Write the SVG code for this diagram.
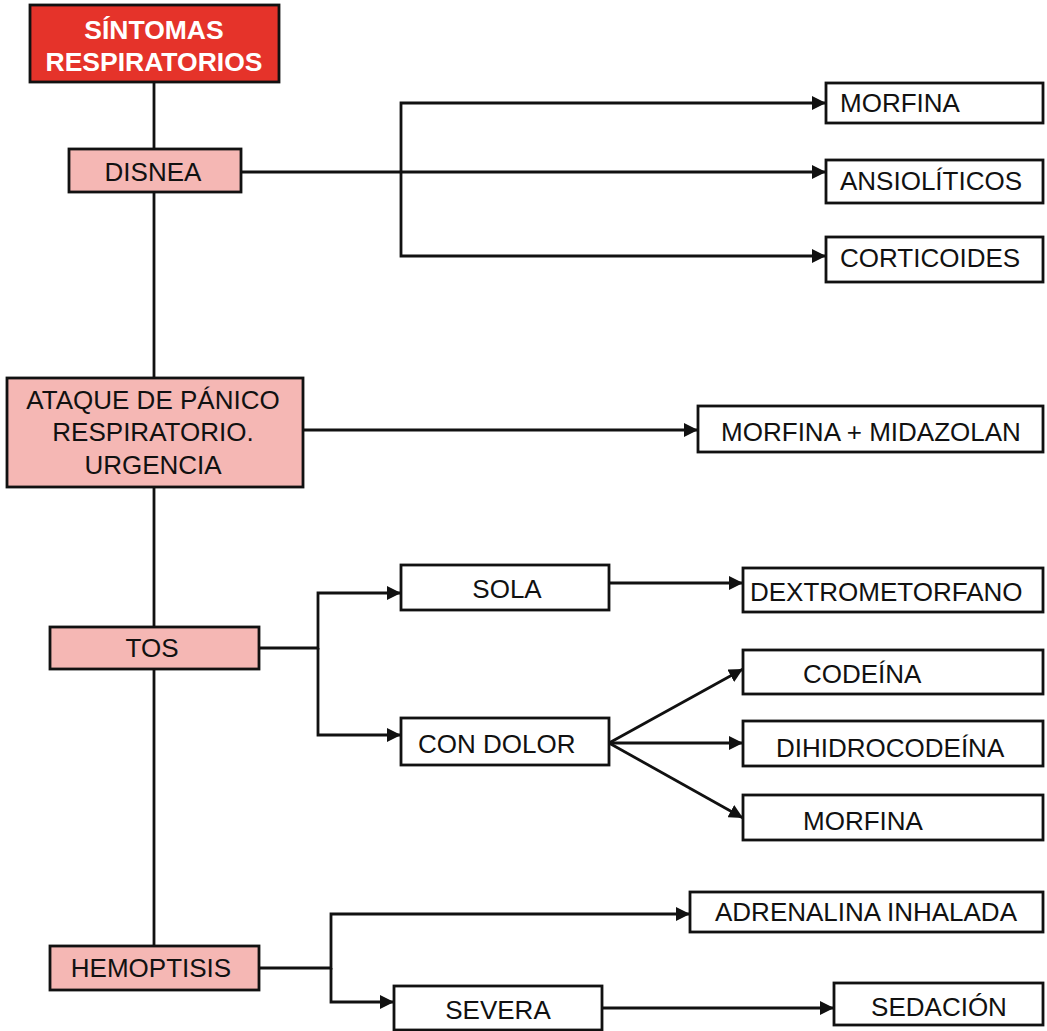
<svg xmlns="http://www.w3.org/2000/svg" width="1047" height="1031" viewBox="0 0 1047 1031">
<defs>
<style>
.box{fill:#fff;stroke:#111;stroke-width:2.8}
.pink{fill:#f5b7b4}
.title{fill:#e5332a}
.t{font-family:"Liberation Sans",Arial,sans-serif;font-size:26px;fill:#111}
.c{text-anchor:middle}
.tt{font-family:"Liberation Sans",Arial,sans-serif;font-size:26.5px;font-weight:bold;fill:#fff;text-anchor:middle}
.ln{fill:none;stroke:#111;stroke-width:2.8}
.ar{marker-end:url(#ah)}
</style>
<marker id="ah" viewBox="0 0 14 14" refX="14" refY="7" markerWidth="14" markerHeight="14" markerUnits="userSpaceOnUse" orient="auto">
<path d="M0,0 L14,7 L0,14 Z" fill="#111"/>
</marker>
</defs>
<rect width="1047" height="1031" fill="#fff"/>
<g id="connectors">
<path class="ln" d="M154,82 V946"/>
<path class="ln ar" d="M241,172 H826"/>
<path class="ln ar" d="M401,172 V103 H826"/>
<path class="ln ar" d="M401,172 V256 H826"/>
<path class="ln ar" d="M303,430 H698"/>
<path class="ln ar" d="M259,648 H318 V593 H401"/>
<path class="ln ar" d="M318,648 V735 H401"/>
<path class="ln ar" d="M609,583 H743"/>
<path class="ln ar" d="M609,743 L743,669"/>
<path class="ln ar" d="M609,743 H743"/>
<path class="ln ar" d="M609,743 L743,818"/>
<path class="ln ar" d="M259,968 H331 V914 H690"/>
<path class="ln ar" d="M331,968 V1002 H394"/>
<path class="ln ar" d="M602,1008 H834"/>
</g>
<g id="n-sintomas"><rect class="box title" x="30" y="5" width="249" height="77"/><text class="tt" x="154" y="39">SÍNTOMAS</text><text class="tt" x="154" y="71">RESPIRATORIOS</text></g>
<g id="n-disnea"><rect class="box pink" x="69" y="149" width="172" height="43"/><text class="t c" x="153" y="181">DISNEA</text></g>
<g id="n-morfina1"><rect class="box" x="826" y="83" width="217" height="40"/><text class="t" x="840" y="112">MORFINA</text></g>
<g id="n-ansioliticos"><rect class="box" x="826" y="160" width="217" height="43"/><text class="t" x="840" y="190">ANSIOLÍTICOS</text></g>
<g id="n-corticoides"><rect class="box" x="826" y="237" width="217" height="45"/><text class="t" x="840" y="267">CORTICOIDES</text></g>
<g id="n-ataque"><rect class="box pink" x="7" y="378" width="296" height="109"/><text class="t c" x="153" y="409">ATAQUE DE PÁNICO</text><text class="t c" x="153" y="441">RESPIRATORIO.</text><text class="t c" x="153" y="474">URGENCIA</text></g>
<g id="n-morfmidaz"><rect class="box" x="698" y="406" width="345" height="46"/><text class="t c" x="871" y="441">MORFINA + MIDAZOLAN</text></g>
<g id="n-tos"><rect class="box pink" x="50" y="627" width="209" height="42"/><text class="t c" x="152" y="657">TOS</text></g>
<g id="n-sola"><rect class="box" x="401" y="565" width="208" height="45"/><text class="t c" x="507" y="598">SOLA</text></g>
<g id="n-condolor"><rect class="box" x="401" y="718" width="208" height="47"/><text class="t" x="418" y="753">CON DOLOR</text></g>
<g id="n-dextro"><rect class="box" x="743" y="568" width="300" height="44"/><text class="t" x="750" y="601">DEXTROMETORFANO</text></g>
<g id="n-codeina"><rect class="box" x="743" y="650" width="300" height="44"/><text class="t" x="803" y="683">CODEÍNA</text></g>
<g id="n-dihidro"><rect class="box" x="743" y="721" width="300" height="45"/><text class="t" x="776" y="757">DIHIDROCODEÍNA</text></g>
<g id="n-morfina2"><rect class="box" x="743" y="795" width="300" height="45"/><text class="t" x="803" y="830">MORFINA</text></g>
<g id="n-hemoptisis"><rect class="box pink" x="50" y="946" width="209" height="44"/><text class="t c" x="151" y="977">HEMOPTISIS</text></g>
<g id="n-adrenalina"><rect class="box" x="690" y="892" width="353" height="40"/><text class="t c" x="866" y="921">ADRENALINA INHALADA</text></g>
<g id="n-severa"><rect class="box" x="394" y="986" width="208" height="44"/><text class="t c" x="498" y="1019">SEVERA</text></g>
<g id="n-sedacion"><rect class="box" x="834" y="983" width="209" height="42"/><text class="t c" x="939" y="1016">SEDACIÓN</text></g>
</svg>
